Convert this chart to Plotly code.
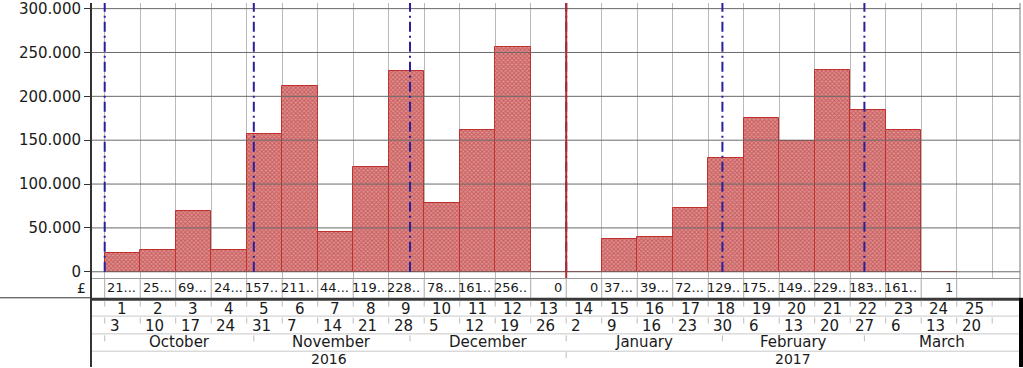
import numpy as np
import plotly.graph_objects as go

# ---------------- data ----------------
weeks = list(range(1, 26))
week_days = [3, 10, 17, 24, 31, 7, 14, 21, 28, 5, 12, 19, 26,
             2, 9, 16, 23, 30, 6, 13, 20, 27, 6, 13, 20]
weekly_cost = [21800, 25300, 69500, 24800, 157300, 211400, 44800, 119700,
               228500, 78600, 161800, 256700, 0, 0, 37600, 39800, 72900,
               129400, 175300, 149600, 229500, 183900, 161600, 1]
months = ["October", "November", "December", "January", "February", "March"]
month_starts = ["2016-10-01", "2016-11-01", "2016-12-01",
                "2017-01-01", "2017-02-01", "2017-03-01"]
years = ["2016", "2017"]
year_starts = ["2016-01-01", "2017-01-01"]
timeline_start = "2016-10-03"
status_date = "2017-01-02"
y_ticks = [0, 50000, 100000, 150000, 200000, 250000, 300000]
currency = "£"

# ---------------- layout constants ----------------
W, H = 1023, 368
ML, MR, MT, MB = 92, 3, 0, 90
PH = H - MT - MB          # plot height in px
PW = W - ML - MR
X_RANGE = [-0.358, 25.783]
Y_RANGE = [-7100, 306400]
FONT = "DejaVu Sans"
TXT = "#1a1a1a"


def wpos(d):
    """position on the working-week scale (weeks since timeline start)"""
    d = np.busday_offset(d, 0, roll="forward")
    return np.busday_count(timeline_start, d) / 5.0


def py(px):
    """pixel row -> paper y"""
    return (PH + MT - px) / PH


def px_x(px):
    return (px - ML) / PW


def cost_label(v):
    if v >= 1000:
        k = str(v // 1000)
        return k + (".." if len(k) >= 3 else "...")
    return str(v)


fig = go.Figure()
fig.add_trace(go.Bar(
    x=[i + 0.5 for i in range(len(weekly_cost))],
    y=weekly_cost,
    width=1,
    marker=dict(
        color="#e09090",
        line=dict(color="#c0302c", width=1),
        pattern=dict(shape="x", size=3, solidity=0.55,
                     fgcolor="#b02a2a", fillmode="overlay"),
    ),
    hoverinfo="skip",
))

shapes = []
# horizontal gridlines drawn above the bars
for v in y_ticks:
    shapes.append(dict(type="line", xref="paper", yref="y", x0=0, x1=1,
                       y0=v, y1=v, line=dict(color="#6a6a6a", width=1),
                       layer="above"))
# month marker lines (dash-dot)
for d in month_starts:
    p = wpos(d)
    if X_RANGE[0] <= p <= X_RANGE[1]:
        shapes.append(dict(type="line", xref="x", yref="y", x0=p, x1=p,
                           y0=0, y1=Y_RANGE[1],
                           line=dict(color="#2b1f9c", width=2,
                                     dash="10px,4px,2px,4px"),
                           layer="above"))
# status line
sp = wpos(status_date)
shapes.append(dict(type="line", xref="x", yref="paper", x0=sp, x1=sp,
                   y0=0, y1=1, line=dict(color="#b22a2a", width=2),
                   layer="above"))
# plot right border
shapes.append(dict(type="line", xref="paper", yref="paper", x0=1, x1=1,
                   y0=py(298), y1=1, line=dict(color="#7a7a7a", width=1)))

# ---- table under the chart ----
# cost row separators
for k in range(len(weekly_cost) + 1):
    shapes.append(dict(type="line", xref="x", yref="paper", x0=k, x1=k,
                       y0=py(298), y1=0, line=dict(color="#a9a9a9", width=1)))
# line under the cost row, left part
shapes.append(dict(type="line", xref="paper", yref="paper", x0=px_x(0), x1=0,
                   y0=py(298), y1=py(298), line=dict(color="#333333", width=1)))
# table top border
shapes.append(dict(type="line", xref="paper", yref="paper", x0=0, x1=1,
                   y0=py(299.5), y1=py(299.5),
                   line=dict(color="#3a3a3a", width=3)))
# row separators
for r in [316.5, 334.5, 352]:
    shapes.append(dict(type="line", xref="paper", yref="paper", x0=0, x1=1,
                       y0=py(r), y1=py(r), line=dict(color="#c8c8c8", width=1)))
# table left border (continuation of the axis)
shapes.append(dict(type="line", xref="paper", yref="paper", x0=px_x(91), x1=px_x(91),
                   y0=py(H), y1=0, line=dict(color="#333333", width=2)))
# table right border
shapes.append(dict(type="line", xref="paper", yref="paper",
                   x0=px_x(1021), x1=px_x(1021),
                   y0=py(H), y1=py(298), line=dict(color="#000000", width=4)))
# ticks in week and date rows
for k in range(len(weeks) + 1):
    for (a, b) in [(301, 307), (318, 324)]:
        shapes.append(dict(type="line", xref="x", yref="paper", x0=k, x1=k,
                           y0=py(a), y1=py(b),
                           line=dict(color="#bcbcbc", width=1)))
# ticks in month row
for d in month_starts:
    p = wpos(d)
    if X_RANGE[0] <= p <= X_RANGE[1]:
        shapes.append(dict(type="line", xref="x", yref="paper", x0=p, x1=p,
                           y0=py(336), y1=py(342),
                           line=dict(color="#bcbcbc", width=1)))
# ticks in year row
for d in year_starts:
    p = wpos(d)
    if X_RANGE[0] < p <= X_RANGE[1]:
        shapes.append(dict(type="line", xref="x", yref="paper", x0=p, x1=p,
                           y0=py(353), y1=py(359),
                           line=dict(color="#bcbcbc", width=1)))

annotations = []
annotations.append(dict(text=currency, xref="paper", yref="paper", x=0, y=py(288),
                        xanchor="right", yanchor="middle", xshift=-4,
                        showarrow=False, font=dict(family=FONT, size=14, color=TXT)))
for i, v in enumerate(weekly_cost):
    annotations.append(dict(text=cost_label(v), xref="x", yref="paper",
                            x=i + 1, y=py(288), xanchor="right", yanchor="middle",
                            xshift=-2, showarrow=False,
                            font=dict(family=FONT, size=13, color=TXT)))
for i, w in enumerate(weeks):
    annotations.append(dict(text=str(w), xref="x", yref="paper", x=i + 0.5,
                            y=py(309), xanchor="center", yanchor="middle",
                            showarrow=False,
                            font=dict(family=FONT, size=15, color=TXT)))
    annotations.append(dict(text=str(week_days[i]), xref="x", yref="paper", x=i,
                            y=py(326.5), xanchor="left", yanchor="middle",
                            xshift=3, showarrow=False,
                            font=dict(family=FONT, size=15, color=TXT)))


def spans(starts):
    pos = [max(wpos(d), X_RANGE[0]) for d in starts]
    ends = pos[1:] + [X_RANGE[1]]
    return [(a + b) / 2 for a, b in zip(pos, ends)]


for name, c in zip(months, spans(month_starts)):
    annotations.append(dict(text=name, xref="x", yref="paper", x=c, y=py(343.2),
                            xanchor="center", yanchor="middle", showarrow=False,
                            borderpad=0,
                            font=dict(family=FONT, size=15, color=TXT)))
for name, c in zip(years, spans(year_starts)):
    annotations.append(dict(text=name, xref="x", yref="paper", x=c, y=py(360.2),
                            xanchor="center", yanchor="middle", showarrow=False,
                            borderpad=0,
                            font=dict(family=FONT, size=14, color=TXT)))

fig.update_layout(
    width=W, height=H,
    margin=dict(l=ML, r=MR, t=MT, b=MB),
    paper_bgcolor="white", plot_bgcolor="white",
    separators=",.",
    showlegend=False,
    bargap=0,
    shapes=shapes,
    annotations=annotations,
    font=dict(family=FONT, size=15, color=TXT),
    xaxis=dict(range=X_RANGE, tickvals=list(range(len(weeks) + 1)),
               showticklabels=False, ticks="", showgrid=True,
               gridcolor="#b9b9b9", gridwidth=1, zeroline=False,
               showline=True, linecolor="#9a9a9a", linewidth=1,
               fixedrange=True),
    yaxis=dict(range=Y_RANGE, tickvals=y_ticks, tickformat=",d",
               showgrid=False, zeroline=False,
               showline=True, linecolor="#333333", linewidth=2,
               ticks="outside", ticklen=6, tickcolor="#333333",
               ticklabeloverflow="allow",
               tickfont=dict(family=FONT, size=15, color=TXT),
               fixedrange=True),
)

fig.write_html(
    "out.html",
    config={"displayModeBar": False},
    post_script="document.body.style.margin='0';document.body.style.overflow='hidden';",
)
